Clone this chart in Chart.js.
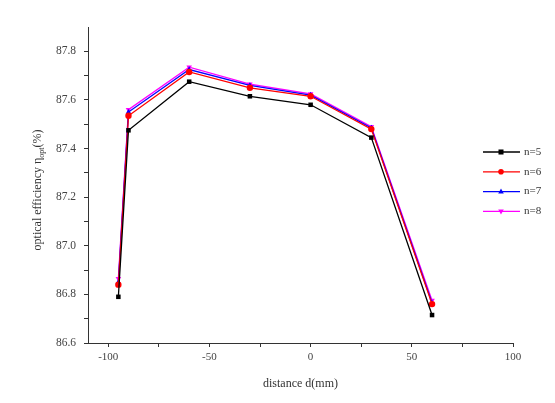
<!DOCTYPE html>
<html>
<head>
<meta charset="utf-8">
<script src="https://cdn.jsdelivr.net/npm/chart.js@4"></script>
<style>
  html, body { margin: 0; padding: 0; background: #fff; }
  #wrap { width: 555px; height: 403px; }
</style>
</head>
<body>
<div id="wrap"><canvas id="chart" width="555" height="403"></canvas></div>
<script>
// distance values and efficiencies
const distances = [-95, -90, -60, -30, 0, 30, 60];
const n5 = [86.79, 87.475, 87.675, 87.615, 87.58, 87.445, 86.715];
const n6 = [86.84, 87.535, 87.715, 87.65, 87.615, 87.48, 86.76];
const n7 = [86.85, 87.55, 87.725, 87.66, 87.62, 87.485, 86.765];
const n8 = [86.865, 87.56, 87.735, 87.665, 87.625, 87.49, 86.775];
const seriesNames = ['n=5', 'n=6', 'n=7', 'n=8'];
const xTicks = [-100, -75, -50, -25, 0, 25, 50, 75, 100];
const yTicks = [86.6, 86.7, 86.8, 86.9, 87.0, 87.1, 87.2, 87.3, 87.4, 87.5, 87.6, 87.7, 87.8];

const FONT = '"Liberation Serif", "DejaVu Serif", serif';
const colors = ['#000000', '#ff0000', '#0000ff', '#ff00ff'];
const shapes = ['rect', 'circle', 'triangle', 'triangle'];
const rotations = [0, 0, 0, 180];
const allSeries = [n5, n6, n7, n8];

function makeDataset(i) {
    return {
        label: seriesNames[i],
        data: distances.map((d, k) => ({ x: d, y: allSeries[i][k] })),
        borderColor: colors[i],
        backgroundColor: colors[i],
        borderWidth: 1.3,
        pointStyle: shapes[i],
        rotation: rotations[i],
        pointRadius: 3.2,
        pointBorderWidth: 0,
        tension: 0
    };
}

// legend and y title with subscript are drawn by hand
const extras = {
    id: 'extras',
    afterDraw(chart) {
        const ctx = chart.ctx;
        ctx.save();
        // legend
        chart.data.datasets.forEach((ds, i) => {
            const y = 152 + i * 19.8;
            ctx.strokeStyle = ds.borderColor;
            ctx.lineWidth = 1.3;
            ctx.beginPath();
            ctx.moveTo(483, y);
            ctx.lineTo(520, y);
            ctx.stroke();
            ctx.fillStyle = ds.backgroundColor;
            drawMarker(ctx, shapes[i], rotations[i], 501, y, 2.8);
            ctx.fillStyle = '#333';
            ctx.font = '11px ' + FONT;
            ctx.textAlign = 'left';
            ctx.textBaseline = 'middle';
            ctx.fillText(ds.label, 524, y);
        });
        // y axis title
        ctx.translate(38, 190);
        ctx.rotate(-Math.PI / 2);
        ctx.fillStyle = '#333';
        ctx.textBaseline = 'middle';
        const main = 'optical efficiency \u03b7';
        const sub = 'opt';
        const tail = '(%)';
        ctx.font = '12px ' + FONT;
        const w1 = ctx.measureText(main).width;
        const w3 = ctx.measureText(tail).width;
        ctx.font = '8px ' + FONT;
        const w2 = ctx.measureText(sub).width;
        let x = -(w1 + w2 + w3) / 2;
        ctx.font = '12px ' + FONT;
        ctx.textAlign = 'left';
        ctx.fillText(main, x, 0);
        x += w1;
        ctx.font = '8px ' + FONT;
        ctx.fillText(sub, x, 4);
        x += w2;
        ctx.font = '12px ' + FONT;
        ctx.fillText(tail, x, 0);
        ctx.restore();
    }
};

function drawMarker(ctx, shape, rot, x, y, r) {
    ctx.save();
    ctx.translate(x, y);
    ctx.rotate(rot * Math.PI / 180);
    ctx.beginPath();
    if (shape === 'rect') {
        ctx.rect(-r * 0.9, -r * 0.9, r * 1.8, r * 1.8);
    } else if (shape === 'circle') {
        ctx.arc(0, 0, r, 0, Math.PI * 2);
    } else {
        ctx.moveTo(0, -r * 1.1);
        ctx.lineTo(r, r * 0.7);
        ctx.lineTo(-r, r * 0.7);
        ctx.closePath();
    }
    ctx.fill();
    ctx.restore();
}

new Chart(document.getElementById('chart'), {
    type: 'line',
    data: { datasets: [0, 1, 2, 3].map(makeDataset) },
    options: {
        responsive: false,
        animation: false,
        layout: { padding: { top: 27, right: 42, left: 0, bottom: 8 } },
        plugins: { legend: { display: false }, tooltip: { enabled: false } },
        scales: {
            x: {
                type: 'linear',
                min: -110,
                max: 100,
                afterBuildTicks: s => { s.ticks = xTicks.map(v => ({ value: v })); },
                afterFit: s => { s.height = 52; },
                ticks: {
                    autoSkip: false,
                    maxRotation: 0,
                    color: '#444',
                    font: { family: FONT, size: 11 },
                    padding: 4,
                    callback: v => (v % 50 === 0 ? String(v) : '')
                },
                grid: { drawOnChartArea: false, tickLength: 4, color: '#333' },
                border: { color: '#333', width: 1 },
                title: {
                    display: true,
                    text: 'distance d(mm)',
                    color: '#333',
                    font: { family: FONT, size: 12 },
                    padding: { top: 6 }
                }
            },
            y: {
                min: 86.6,
                max: 87.9,
                afterBuildTicks: s => { s.ticks = yTicks.map(v => ({ value: v })); },
                afterFit: s => { s.width = 88; },
                ticks: {
                    autoSkip: false,
                    color: '#444',
                    font: { family: FONT, size: 11.5 },
                    padding: 8,
                    callback: v => (Math.round(v * 10) % 2 === 0 ? v.toFixed(1) : '')
                },
                grid: { drawOnChartArea: false, tickLength: 4, color: '#333' },
                border: { color: '#333', width: 1 }
            }
        }
    },
    plugins: [extras]
});
</script>
</body>
</html>
